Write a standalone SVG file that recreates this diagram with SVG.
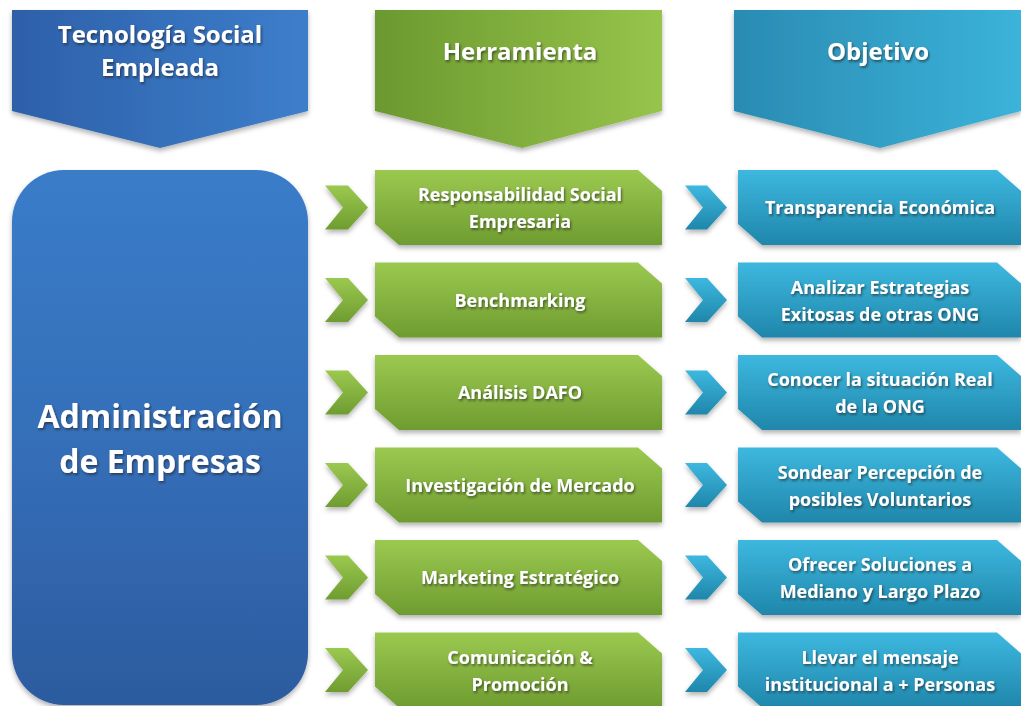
<svg xmlns="http://www.w3.org/2000/svg" xmlns:xlink="http://www.w3.org/1999/xlink" width="1021" height="706" viewBox="0 0 1021 706">
<style>
text{font-family:"Open Sans","Liberation Sans",sans-serif;font-weight:bold;fill:#ffffff;text-anchor:middle;filter:url(#ts)}
.h{font-size:24px}
.big{font-size:32px}
.r{font-size:18px}
</style>
<defs>
<filter id="sh" x="-10%" y="-10%" width="120%" height="130%">
<feDropShadow dx="0" dy="3" stdDeviation="2.5" flood-color="#000" flood-opacity="0.3"/>
</filter>
<filter id="ts" x="-10%" y="-20%" width="120%" height="150%">
<feDropShadow dx="1.2" dy="1.8" stdDeviation="1" flood-color="#1a1a1a" flood-opacity="0.6"/>
</filter>
<linearGradient id="hb" x1="0" y1="0" x2="1" y2="0"><stop offset="0" stop-color="#2d60a9"/><stop offset="1" stop-color="#3d7ecb"/></linearGradient>
<linearGradient id="hg" x1="0" y1="0" x2="1" y2="0"><stop offset="0" stop-color="#6b992f"/><stop offset="1" stop-color="#97c44b"/></linearGradient>
<linearGradient id="ht" x1="0" y1="0" x2="1" y2="0"><stop offset="0" stop-color="#2a8bb2"/><stop offset="1" stop-color="#3bb3da"/></linearGradient>
<linearGradient id="bb" x1="0" y1="0" x2="0" y2="1"><stop offset="0" stop-color="#3a7cc9"/><stop offset="0.5" stop-color="#356fb9"/><stop offset="1" stop-color="#2c5b9f"/></linearGradient>
<linearGradient id="gg" x1="0" y1="0" x2="0" y2="1"><stop offset="0" stop-color="#9bc950"/><stop offset="1" stop-color="#6f9c30"/></linearGradient>
<linearGradient id="tg" x1="0" y1="0" x2="0" y2="1"><stop offset="0" stop-color="#3db8df"/><stop offset="1" stop-color="#2086ab"/></linearGradient>
<path id="gbox" d="M375,0 H638 L662,21 V75 H399 L375,54 Z"/>
<path id="tbox" d="M738,0 H997 L1021,21 V75 H762 L738,54 Z"/>
<path id="gch" d="M325,-22 H348 L368,0 L348,22 H325 L343,0 Z"/>
<path id="tch" d="M685,-22 H707 L727,0 L707,22 H685 L703,0 Z"/>
</defs>
<rect width="1021" height="706" fill="#ffffff"/>

<g id="header-tecnologia">
<path d="M12,10 H308 V111 L160,148 L12,111 Z" fill="url(#hb)" filter="url(#sh)"/>
<text class="h" x="160" y="43">Tecnología Social</text>
<text class="h" x="160" y="76">Empleada</text>
</g>
<g id="header-herramienta">
<path d="M375,10 H662 V111 L522,148 L375,111 Z" fill="url(#hg)" filter="url(#sh)"/>
<text class="h" x="520" y="60">Herramienta</text>
</g>
<g id="header-objetivo">
<path d="M734,10 H1021 V111 L880,148 L734,111 Z" fill="url(#ht)" filter="url(#sh)"/>
<text class="h" x="878" y="60">Objetivo</text>
</g>

<g id="admin">
<rect x="12" y="170" width="296" height="535" rx="52" ry="52" fill="url(#bb)" filter="url(#sh)"/>
<text class="big" x="160" y="428">Administración</text>
<text class="big" x="160" y="473">de Empresas</text>
</g>

<g id="connectors">
<use xlink:href="#gch" transform="translate(0,207.5)" fill="url(#gg)" filter="url(#sh)"/>
<use xlink:href="#gch" transform="translate(0,300)" fill="url(#gg)" filter="url(#sh)"/>
<use xlink:href="#gch" transform="translate(0,392.5)" fill="url(#gg)" filter="url(#sh)"/>
<use xlink:href="#gch" transform="translate(0,485)" fill="url(#gg)" filter="url(#sh)"/>
<use xlink:href="#gch" transform="translate(0,577.5)" fill="url(#gg)" filter="url(#sh)"/>
<use xlink:href="#gch" transform="translate(0,670)" fill="url(#gg)" filter="url(#sh)"/>
<use xlink:href="#tch" transform="translate(0,207.5)" fill="url(#tg)" filter="url(#sh)"/>
<use xlink:href="#tch" transform="translate(0,300)" fill="url(#tg)" filter="url(#sh)"/>
<use xlink:href="#tch" transform="translate(0,392.5)" fill="url(#tg)" filter="url(#sh)"/>
<use xlink:href="#tch" transform="translate(0,485)" fill="url(#tg)" filter="url(#sh)"/>
<use xlink:href="#tch" transform="translate(0,577.5)" fill="url(#tg)" filter="url(#sh)"/>
<use xlink:href="#tch" transform="translate(0,670)" fill="url(#tg)" filter="url(#sh)"/>
</g>

<g id="tool-1"><use xlink:href="#gbox" transform="translate(0,170)" fill="url(#gg)" filter="url(#sh)"/>
<text class="r" x="520" y="201">Responsabilidad Social</text><text class="r" x="520" y="228">Empresaria</text></g>
<g id="tool-2"><use xlink:href="#gbox" transform="translate(0,262.5)" fill="url(#gg)" filter="url(#sh)"/>
<text class="r" x="520" y="306.5">Benchmarking</text></g>
<g id="tool-3"><use xlink:href="#gbox" transform="translate(0,355)" fill="url(#gg)" filter="url(#sh)"/>
<text class="r" x="520" y="399">Análisis DAFO</text></g>
<g id="tool-4"><use xlink:href="#gbox" transform="translate(0,447.5)" fill="url(#gg)" filter="url(#sh)"/>
<text class="r" x="520" y="491.5">Investigación de Mercado</text></g>
<g id="tool-5"><use xlink:href="#gbox" transform="translate(0,540)" fill="url(#gg)" filter="url(#sh)"/>
<text class="r" x="520" y="584">Marketing Estratégico</text></g>
<g id="tool-6"><use xlink:href="#gbox" transform="translate(0,632.5)" fill="url(#gg)" filter="url(#sh)"/>
<text class="r" x="520" y="663.5">Comunicación &amp;</text><text class="r" x="520" y="690.5">Promoción</text></g>

<g id="goal-1"><use xlink:href="#tbox" transform="translate(0,170)" fill="url(#tg)" filter="url(#sh)"/>
<text class="r" x="880" y="214">Transparencia Económica</text></g>
<g id="goal-2"><use xlink:href="#tbox" transform="translate(0,262.5)" fill="url(#tg)" filter="url(#sh)"/>
<text class="r" x="880" y="293.5">Analizar Estrategias</text><text class="r" x="880" y="320.5">Exitosas de otras ONG</text></g>
<g id="goal-3"><use xlink:href="#tbox" transform="translate(0,355)" fill="url(#tg)" filter="url(#sh)"/>
<text class="r" x="880" y="386">Conocer la situación Real</text><text class="r" x="880" y="413">de la ONG</text></g>
<g id="goal-4"><use xlink:href="#tbox" transform="translate(0,447.5)" fill="url(#tg)" filter="url(#sh)"/>
<text class="r" x="880" y="478.5">Sondear Percepción de</text><text class="r" x="880" y="505.5">posibles Voluntarios</text></g>
<g id="goal-5"><use xlink:href="#tbox" transform="translate(0,540)" fill="url(#tg)" filter="url(#sh)"/>
<text class="r" x="880" y="571">Ofrecer Soluciones a</text><text class="r" x="880" y="598">Mediano y Largo Plazo</text></g>
<g id="goal-6"><use xlink:href="#tbox" transform="translate(0,632.5)" fill="url(#tg)" filter="url(#sh)"/>
<text class="r" x="880" y="663.5">Llevar el mensaje</text><text class="r" x="880" y="690.5">institucional a + Personas</text></g>
</svg>
